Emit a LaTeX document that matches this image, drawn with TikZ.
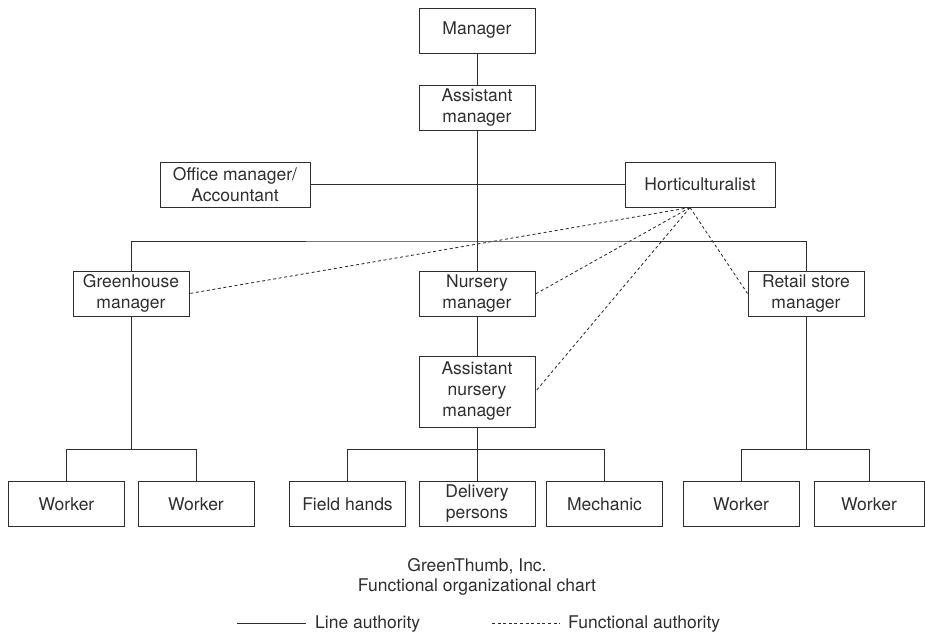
\documentclass[tikz,border=0pt]{standalone}
\usepackage{fontspec}
\setmainfont{TeX Gyre Heros}
\definecolor{ink}{HTML}{2E2E2E}
\usepackage{tikz}
\usetikzlibrary{positioning}

\begin{document}
\begin{tikzpicture}[x=1pt, y=-1pt,
    every node/.style={font=\fontsize{17.5}{21}\selectfont, text=ink},
    box/.style={draw=ink, line width=1pt, minimum width=116pt, minimum height=45pt, inner sep=2pt, align=center},
    line/.style={draw=ink, line width=1pt},
    func/.style={draw=ink, line width=0.85pt, dash pattern=on 3pt off 2.6pt}]
  \useasboundingbox (0,0) rectangle (925,633);

  % top of the chart
  \node[box] (mgr) at (477, 30.5) {Manager};
  \node[box] (amgr) at (477, 108) {Assistant\\manager};
  \node[box, minimum width=150pt] (off) at (235, 184.5) {Office manager/\\Accountant};
  \node[box, minimum width=150pt] (hort) at (700, 184.5) {Horticulturalist};

  % middle level
  \node[box] (gh) at (131, 293.5) {Greenhouse\\manager};
  \node[box] (nmgr) at (477, 294) {Nursery\\manager};
  \node[box] (rt) at (806, 293.5) {Retail store\\manager};
  \node[box, minimum height=71pt] (anm) at (477, 391.5) {Assistant\\nursery\\manager};

  % bottom row
  \node[box] (w1) at (66.5, 504) {Worker};
  \node[box] (w2) at (196, 504) {Worker};
  \node[box] (fh) at (347.5, 504) {Field hands};
  \node[box] (del) at (477, 504) {Delivery\\persons};
  \node[box] (mech) at (604.5, 504) {Mechanic};
  \node[box] (w3) at (741, 504) {Worker};
  \node[box, minimum width=110pt] (w4) at (869, 504) {Worker};

  \coordinate (br) at (477, 241);
  \coordinate (ghb) at (131, 449);
  \coordinate (nb) at (477, 449);
  \coordinate (rtb) at (806, 449);
  \coordinate (hub) at ([xshift=-10pt]hort.south);

  % line authority
  \draw[line] (mgr) -- (amgr);
  \draw[line] (amgr) -- (nmgr);
  \draw[line] (off) -- (hort);
  \draw[line] (gh.north) |- (br) -| (rt.north);
  \draw[line] (nmgr) -- (anm);
  \draw[line] (anm) -- (del);
  \draw[line] (gh.south) -- (ghb);
  \draw[line] (w1.north) |- (ghb) -| (w2.north);
  \draw[line] (fh.north) |- (nb) -| (mech.north);
  \draw[line] (rt.south) -- (rtb);
  \draw[line] (w3.north) |- (rtb) -| (w4.north);

  % functional authority
  \draw[func] (hub) -- (gh.east);
  \draw[func] (hub) -- (nmgr.east);
  \draw[func] (hub) -- (anm.east);
  \draw[func] (hub) -- (rt.west);

  % caption and key
  \node[align=center, font=\fontsize{17.5}{20}\selectfont] (cap) at (477, 577) {GreenThumb, Inc.\\Functional organizational chart};
  \coordinate (la) at (237, 623);
  \coordinate (lb) at (306, 623);
  \coordinate (fa) at (492, 623);
  \coordinate (fb) at (560, 623);
  \node[anchor=west, inner sep=0pt] (ltxt) at (315, 624) {Line authority};
  \node[anchor=west, inner sep=0pt] (ftxt) at (568, 624) {Functional authority};
  \draw[line] (la) -- (lb);
  \draw[func] (fa) -- (fb);
\end{tikzpicture}
\end{document}
